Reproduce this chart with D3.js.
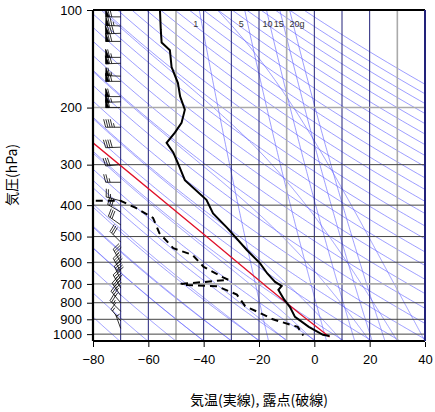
<!DOCTYPE html>
<html><head><meta charset="utf-8">
<script src="https://cdn.jsdelivr.net/npm/d3@7"></script>
<style>body{margin:0;background:#fff}svg{font-family:"Liberation Sans",Arial,sans-serif}</style>
</head><body><svg id="c" width="435" height="412"></svg>
<script>
const pTicks=[100,200,300,400,500,600,700,800,900,1000];
const tTicks=[-80,-60,-40,-20,0,20,40];
const tempP=[100,115,126,133,150,168,185,203,223,239,257,275,297,335,385,424,470,550,605,650,690,710,730,780,825,885,950,1005,1013];
const tempT=[-55.8,-55.5,-55.2,-52.2,-51.6,-49.3,-48.5,-46.8,-48,-50.4,-53.4,-51,-49.3,-46.8,-39,-36.6,-31.5,-24.4,-19.6,-17,-14.2,-11.8,-13,-11,-8.8,-7,-2,3.1,5.5];
const dewP=[388,388,408,438,488,543,570,620,668,680,700,705,712,755,820,860,900,950,1010];
const dewT=[-79,-70,-64.5,-58.3,-56,-51,-44,-40,-33,-31,-48,-48,-35,-28,-25,-19.7,-15,-6,-4];
const parP=[1020,900,700,500,257];
const parT=[5.5,-2.7,-18.4,-39,-80];
const mixW=[1,5,10,15,20];
const barbP=[105,112,118,125,140,146,160,166,185,192,200,230,265,300,340,388,420,460,520,600,640,680,720,760,800,850,910,960];
const barbDir=[270,272,268,270,270,268,272,270,270,268,270,270,268,265,270,285,300,305,315,330,330,335,330,325,320,315,320,340];
const barbSpd=[70,75,80,70,65,70,65,70,60,65,60,45,40,30,25,25,30,30,30,35,40,40,45,40,35,25,15,5];

const svg=d3.select("#c");
const L=93,R=425,T=10,B=341;
const x=d3.scaleLinear().domain([-80,40]).range([L,R]);
const y=d3.scaleLog().domain([100,1050]).range([T,B]);
svg.append("defs").append("clipPath").attr("id","cp").append("rect").attr("x",L).attr("y",T).attr("width",R-L).attr("height",B-T);
const g=svg.append("g").attr("clip-path","url(#cp)");
const line=d3.line().x(d=>x(d[1])).y(d=>y(d[0]));
const pr=d3.range(1050,99,-5);
const thin="#5a5aff";
for(let th=200;th<=520;th+=10){
  g.append("path").attr("d",line(pr.map(p=>[p,th*Math.pow(p/1000,0.2857)-273.15]))).attr("fill","none").attr("stroke",thin).attr("stroke-width",0.6);
}
function es(t){return 6.112*Math.exp(17.67*t/(t+243.5));}
for(let t0=-40;t0<=40;t0+=10){
  let t=t0+273.15,pts=[];
  for(let p=1050;p>=100;p-=2){
    pts.push([p,t-273.15]);
    const tc=t-273.15, rs=0.622*es(tc)/(p-es(tc));
    const dTdp=(287*t+2.5e6*rs)/(1004+2.5e6*2.5e6*rs*0.622/(287*t*t))/p;
    t-=dTdp*2;
  }
  g.append("path").attr("d",line(pts)).attr("fill","none").attr("stroke",thin).attr("stroke-width",0.6);
}
function tdw(w,p){const e=w*p/(622+w),l=Math.log(e/6.112);return 243.5*l/(17.67-l);}
mixW.forEach(w=>{
  g.append("path").attr("d",line(pr.map(p=>[p,tdw(w,p)]))).attr("fill","none").attr("stroke",thin).attr("stroke-width",0.6);
});
d3.range(-80,41,10).forEach(t=>{
  const grey=((t+50)%40===0);
  g.append("line").attr("x1",x(t)).attr("x2",x(t)).attr("y1",T).attr("y2",B).attr("stroke",grey?"#aaaaaa":"#22227a").attr("stroke-width",grey?1.6:1);
});
pTicks.forEach(p=>{
  const grey=(p===200||p===700);
  g.append("line").attr("x1",L).attr("x2",R).attr("y1",y(p)).attr("y2",y(p)).attr("stroke",grey?"#aaaaaa":"#444").attr("stroke-width",grey?1.6:1);
});
const ml=svg.append("g").attr("font-size",9).attr("fill","#333");
const off={1:-6,5:-6,10:-4,15:-6,20:0};
mixW.forEach(w=>ml.append("text").attr("x",x(tdw(w,100))+off[w]).attr("y",27).text(w===20?"20g":String(w)));
g.append("path").attr("d",d3.line().curve(d3.curveMonotoneY).x(d=>x(d[1])).y(d=>y(d[0]))(parP.map((p,i)=>[p,parT[i]]))).attr("fill","none").attr("stroke","#e0102a").attr("stroke-width",1.3);
g.append("path").attr("d",line(tempP.map((p,i)=>[p,tempT[i]]))).attr("fill","none").attr("stroke","#000").attr("stroke-width",2);
g.append("path").attr("d",line(dewP.map((p,i)=>[p,dewT[i]]))).attr("fill","none").attr("stroke","#000").attr("stroke-width",2).attr("stroke-dasharray","7,5");
const bg=g.append("g").attr("stroke","#000").attr("stroke-width",0.8).attr("fill","#000");
barbP.forEach((p,i)=>{
  const x0=x(-70),y0=y(p),a=barbDir[i]*Math.PI/180;
  const ux=Math.sin(a),uy=-Math.cos(a);
  const px=-uy,py=ux;
  const len=15;
  const ex=x0+ux*len,ey=y0+uy*len;
  bg.append("line").attr("x1",x0).attr("y1",y0).attr("x2",ex).attr("y2",ey);
  let s=Math.round(barbSpd[i]/5)*5,pos=0;const step=2.2,bl=8;
  while(s>=50){const bx=ex-ux*pos,by=ey-uy*pos;
    bg.append("path").attr("d",`M${bx},${by}L${bx+px*bl},${by+py*bl}L${bx-ux*step*1.5},${by-uy*step*1.5}Z`);
    pos+=step*1.8;s-=50;}
  while(s>=10){const bx=ex-ux*pos,by=ey-uy*pos;
    bg.append("line").attr("x1",bx).attr("y1",by).attr("x2",bx+px*bl+ux*2).attr("y2",by+py*bl+uy*2);pos+=step;s-=10;}
  if(s>=5){if(pos===0)pos=step;const bx=ex-ux*pos,by=ey-uy*pos;
    bg.append("line").attr("x1",bx).attr("y1",by).attr("x2",bx+px*bl/2+ux).attr("y2",by+py*bl/2+uy);}
});
svg.append("line").attr("x1",L).attr("x2",R).attr("y1",T).attr("y2",T).attr("stroke","#000").attr("stroke-width",2.2);
svg.append("line").attr("x1",L).attr("x2",R).attr("y1",B).attr("y2",B).attr("stroke","#000").attr("stroke-width",2.2);
svg.append("line").attr("x1",L).attr("x2",L).attr("y1",T).attr("y2",B).attr("stroke","#000").attr("stroke-width",2.2);
svg.append("line").attr("x1",R).attr("x2",R).attr("y1",T).attr("y2",B).attr("stroke","#22227a").attr("stroke-width",2);
const ya=d3.axisLeft(y).tickValues(pTicks).tickFormat(d3.format("d")).tickSize(5).tickSizeOuter(0);
svg.append("g").attr("transform",`translate(${L-1},0)`).call(ya).call(s=>s.select(".domain").remove())
  .call(s=>s.selectAll("text").attr("font-size",13).attr("fill","#000").attr("x",-10).attr("font-family","Liberation Sans,Arial"));
const xa=d3.axisBottom(x).tickValues(tTicks).tickSize(5).tickSizeOuter(0);
svg.append("g").attr("transform",`translate(0,${B+1})`).call(xa).call(s=>s.select(".domain").remove())
  .call(s=>s.selectAll("text").attr("font-size",13).attr("fill","#000").attr("dy","1.1em").attr("font-family","Liberation Sans,Arial"));
svg.append("text").attr("x",259).attr("y",405).attr("text-anchor","middle").attr("font-size",14).attr("font-family","Noto Sans CJK JP").text("気温(実線), 露点(破線)");
svg.append("text").attr("transform","translate(17,175) rotate(-90)").attr("text-anchor","middle").attr("font-size",14).attr("font-family","Noto Sans CJK JP").text("気圧(hPa)");
</script></body></html>
